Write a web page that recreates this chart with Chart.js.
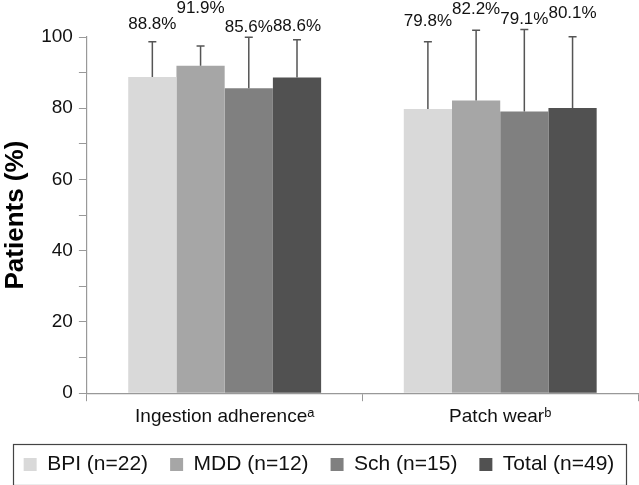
<!DOCTYPE html>
<html>
<head>
<meta charset="utf-8">
<script src="https://cdn.jsdelivr.net/npm/chart.js@4"></script>
<style>
  html, body { margin: 0; padding: 0; background: #fff; }
  #wrap { width: 639px; height: 485px; }
</style>
</head>
<body>
<div id="wrap"><canvas id="chartPasien"></canvas></div>
<script>
const categories = ['Ingestion adherence\u1D43', 'Patch wear\u1D47'];
const groupNames = ['BPI (n=22)', 'MDD (n=12)', 'Sch (n=15)', 'Total (n=49)'];

// mean % per group: [ingestion, patch]
const bpiValues = [88.8, 79.8];
const mddValues = [91.9, 82.2];
const schValues = [85.6, 79.1];
const totalValues = [88.6, 80.1];

// upper error (SD) per group
const bpiErr = [9.9, 18.9];
const mddErr = [5.6, 19.7];
const schErr = [14.3, 23.0];
const totalErr = [10.6, 20.0];

const yTicks = [0, 20, 40, 60, 80, 100];

const warna = ['#d9d9d9', '#a6a6a6', '#808080', '#515151'];
// how far (px) each value label sits above its error cap
const labelLift = [[17, 20], [38, 21], [10, 10], [14, 23]];

const semuaNilai = [bpiValues, mddValues, schValues, totalValues];
const semuaErr = [bpiErr, mddErr, schErr, totalErr];
const FONT = '"Liberation Sans", Arial, sans-serif';

// Error bar + label plugin
const errorBarPlugin = {
  id: 'errorBars',
  afterDatasetsDraw(chart) {
    const ctx = chart.ctx;
    const y = chart.scales.y;
    ctx.save();
    chart.data.datasets.forEach((ds, i) => {
      const meta = chart.getDatasetMeta(i);
      meta.data.forEach((bar, j) => {
        const top = y.getPixelForValue(ds.data[j] + semuaErr[i][j]);
        ctx.strokeStyle = '#555';
        ctx.lineWidth = 1.5;
        ctx.beginPath();
        ctx.moveTo(bar.x, bar.y);
        ctx.lineTo(bar.x, top);
        ctx.moveTo(bar.x - 4, top);
        ctx.lineTo(bar.x + 4, top);
        ctx.stroke();

        ctx.fillStyle = '#111';
        ctx.font = '17px ' + FONT;
        ctx.textAlign = 'center';
        ctx.textBaseline = 'middle';
        ctx.fillText(ds.data[j].toFixed(1) + '%', bar.x, top - labelLift[i][j]);
      });
    });
    ctx.restore();
  }
};

// Box round the legend
const legendBoxPlugin = {
  id: 'legendBox',
  afterDraw(chart) {
    const boxes = chart.legend.legendHitBoxes;
    if (!boxes || !boxes.length) return;
    const first = boxes[0];
    const last = boxes[boxes.length - 1];
    const cy = first.top + first.height / 2;
    const ctx = chart.ctx;
    ctx.save();
    ctx.strokeStyle = '#444';
    ctx.lineWidth = 1.2;
    ctx.strokeRect(Math.round(first.left - 11) + 0.5, Math.round(cy - 21) + 0.5,
      Math.round(last.left + last.width - first.left + 22), 41);
    ctx.restore();
  }
};

const ctx = document.getElementById('chartPasien').getContext('2d');
const chartPasien = new Chart(ctx, {
  type: 'bar',
  data: {
    labels: categories,
    datasets: semuaNilai.map((vals, i) => ({
      label: groupNames[i],
      data: vals,
      backgroundColor: warna[i],
      borderWidth: 0,
      categoryPercentage: 0.7,
      barPercentage: 1.0
    }))
  },
  options: {
    responsive: true,
    maintainAspectRatio: false,
    animation: false,
    layout: { padding: { top: 37, right: 1, left: 0, bottom: 0 } },
    plugins: {
      legend: {
        position: 'bottom',
        maxHeight: 54,
        labels: {
          boxWidth: 13,
          boxHeight: 13,
          padding: 22,
          color: '#111',
          font: { size: 21, family: FONT }
        }
      },
      tooltip: { enabled: false }
    },
    scales: {
      y: {
        min: 0,
        max: 100,
        afterBuildTicks: (axis) => {
          axis.ticks = [];
          for (let v = 0; v <= 100; v += 10) axis.ticks.push({ value: v });
        },
        ticks: {
          color: '#111',
          padding: 6,
          font: { size: 19, family: FONT },
          callback: (v) => yTicks.includes(v) ? v : ''
        },
        border: { color: '#999', width: 1.2 },
        grid: { drawOnChartArea: false, drawTicks: true, tickLength: 8, color: '#999' },
        title: {
          display: true,
          text: 'Patients (%)',
          color: '#000',
          padding: { top: 0, bottom: 4 },
          font: { size: 26, weight: 'bold', family: FONT }
        }
      },
      x: {
        ticks: {
          color: '#111',
          padding: 4,
          font: { size: 19, family: FONT }
        },
        border: { color: '#999', width: 1.2 },
        grid: { drawOnChartArea: false, drawTicks: true, tickLength: 8, color: '#999', offset: true }
      }
    }
  },
  plugins: [errorBarPlugin, legendBoxPlugin]
});
</script>
</body>
</html>
